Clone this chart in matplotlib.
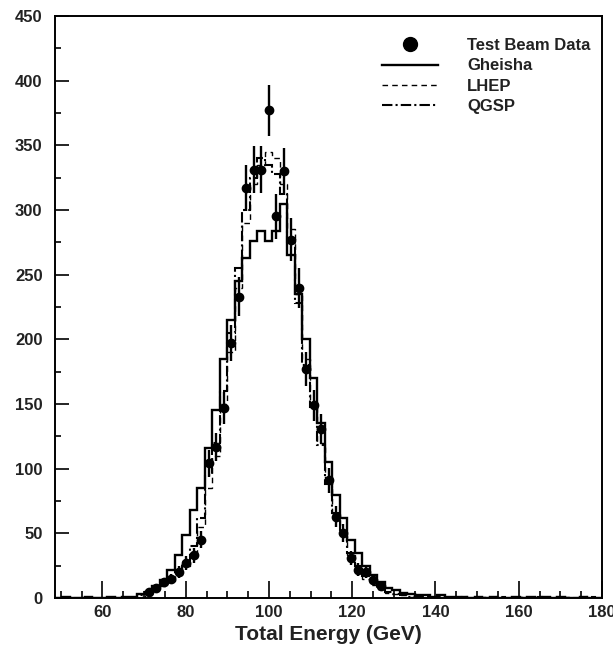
import numpy as np
import matplotlib
matplotlib.use("Agg")
import matplotlib.pyplot as plt
from matplotlib.lines import Line2D

plt.rcParams['font.family'] = ['Liberation Sans', 'DejaVu Sans']

# test beam data (bin centres in GeV, counts)
data_e = [71.1, 72.9, 74.7, 76.5, 78.3, 80.1, 81.9, 83.7, 85.5, 87.3,
          89.1, 90.9, 92.7, 94.5, 96.3, 98.1, 99.9, 101.7, 103.5, 105.3,
          107.1, 108.9, 110.7, 112.5, 114.3, 116.1, 117.9, 119.7, 121.5,
          123.3, 125.1, 126.9]
data_n = [5, 8, 12, 15, 20, 27, 33, 45, 104, 117,
          147, 197, 233, 317, 331, 331, 377, 295, 330, 277,
          240, 177, 149, 131, 91, 63, 50, 31, 22,
          20, 14, 9]

# simulation histograms, 73 bins of 1.8 GeV from 48.6 to 180 GeV
gheisha = [0, 1, 0, 0, 1, 0, 0, 1, 0, 1,
           1, 3, 5, 9, 14, 22, 33, 49, 68, 85,
           116, 145, 185, 215, 245, 263, 276, 284, 276, 284,
           305, 265, 235, 200, 170, 135, 105, 80, 62, 45,
           35, 25, 18, 12, 8, 6, 4, 3, 2, 2,
           1, 2, 1, 1, 1, 0, 1, 0, 1, 0,
           0, 1, 0, 1, 0, 1, 0, 1, 0, 0,
           1, 0, 0]
lhep = [0, 0, 0, 0, 0, 0, 0, 0, 0, 0,
        1, 1, 3, 6, 9, 13, 18, 25, 35, 55,
        85, 110, 150, 190, 240, 290, 320, 335, 345, 340,
        320, 285, 235, 185, 150, 120, 90, 65, 48, 33,
        23, 15, 10, 7, 4, 3, 2, 1, 1, 0,
        1, 0, 0, 1, 0, 0, 0, 1, 0, 0,
        0, 0, 1, 0, 0, 0, 0, 0, 1, 0,
        0, 0, 0]
qgsp = [0, 0, 0, 0, 0, 0, 0, 0, 0, 0,
        0, 2, 4, 7, 10, 14, 20, 28, 40, 62,
        95, 120, 160, 205, 255, 300, 325, 340, 335, 328,
        312, 275, 228, 180, 148, 118, 88, 66, 50, 35,
        25, 17, 12, 8, 5, 3, 2, 1, 1, 1,
        0, 1, 0, 0, 1, 0, 0, 0, 0, 1,
        0, 0, 0, 0, 1, 0, 0, 0, 0, 0,
        0, 1, 0]

legend_labels = ['Test Beam Data', 'Gheisha', 'LHEP', 'QGSP']

edges = np.linspace(48.6, 180.0, len(gheisha) + 1)

fig = plt.figure(figsize=(6.13, 6.48), dpi=100)
ax = fig.add_axes([55 / 613, 50 / 648, 547 / 613, 582 / 648])

qgsp_style = (0, (5, 1.5, 1, 1.5))
ax.stairs(gheisha, edges, color='black', lw=1.7, baseline=None)
ax.stairs(lhep, edges, color='black', lw=1.0, ls=(0, (4, 3)), baseline=None)
ax.stairs(qgsp, edges, color='black', lw=1.5, ls=qgsp_style, baseline=None)

err = np.sqrt(data_n)
ax.errorbar(data_e, data_n, yerr=err, fmt='o', color='black', ms=6,
            elinewidth=1.7, capsize=0)

ax.set_xlim(48.6, 180)
ax.set_ylim(0, 450)
ax.set_xticks(np.arange(60, 181, 20))
ax.set_xticks(np.arange(50, 181, 5), minor=True)
ax.set_yticks(np.arange(0, 451, 50))
ax.set_yticks(np.arange(0, 451, 25), minor=True)

ax.tick_params(which='both', direction='in', top=False, right=False,
               width=1.2)
ax.tick_params(axis='x', which='major', length=12, pad=5)
ax.tick_params(axis='x', which='minor', length=5)
ax.tick_params(axis='y', which='major', length=10, pad=9)
ax.tick_params(axis='y', which='minor', length=4)
for lab in ax.get_xticklabels() + ax.get_yticklabels():
    lab.set_fontsize(12)
    lab.set_fontweight('bold')
    lab.set_color('#222222')
for sp in ax.spines.values():
    sp.set_linewidth(1.4)

ax.set_xlabel('Total Energy (GeV)', fontsize=15, fontweight='bold',
              color='#222222', labelpad=4)

handles = [
    Line2D([], [], color='black', marker='o', ms=10, ls='none'),
    Line2D([], [], color='black', lw=1.7),
    Line2D([], [], color='black', lw=1.0, ls=(0, (4, 3))),
    Line2D([], [], color='black', lw=1.5, ls=qgsp_style),
]
leg = ax.legend(handles, legend_labels, loc='upper left',
                bbox_to_anchor=((382 - 55) / 547, 0.962), frameon=False,
                borderpad=0, borderaxespad=0,
                handlelength=3.35, handletextpad=1.75, labelspacing=0.32,
                prop={'size': 12, 'weight': 'bold'})
for t in leg.get_texts():
    t.set_color('#222222')

fig.savefig('out.png', dpi=100, facecolor='white')
